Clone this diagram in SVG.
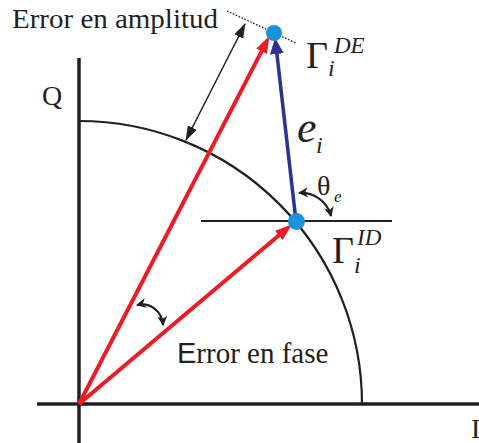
<svg xmlns="http://www.w3.org/2000/svg" width="479" height="443" viewBox="0 0 479 443">
<style>
.txt{font-family:"Liberation Serif","Times New Roman",serif;fill:#231f20}
.it{font-style:italic}
.ax{stroke:#231f20;stroke-width:3.5;fill:none}
.thin{stroke:#231f20;stroke-width:2.2;fill:none}
.red{stroke:#ed1c24;stroke-width:4;fill:none}
.blue{stroke:#2e3192;stroke-width:3.5;fill:none}
.dbl{stroke:#231f20;stroke-width:1.5;fill:none}
.curl{stroke:#231f20;stroke-width:2.2;fill:none}
.dot{fill:#1a93dc}
</style>
<defs>
<marker id="hr" markerUnits="userSpaceOnUse" markerWidth="18" markerHeight="14" refX="8" refY="6" orient="auto"><path d="M0,0 L17,6 L0,12 z" fill="#ed1c24"/></marker>
<marker id="hb" markerUnits="userSpaceOnUse" markerWidth="18" markerHeight="16" refX="8" refY="7" orient="auto"><path d="M0,0 L16,7 L0,14 z" fill="#2e3192"/></marker>
<marker id="hk" markerUnits="userSpaceOnUse" markerWidth="16" markerHeight="12" refX="14" refY="5" orient="auto-start-reverse"><path d="M0,0 L15,5 L0,10 z" fill="#231f20"/></marker>
<marker id="hc" markerUnits="userSpaceOnUse" markerWidth="12" markerHeight="12" refX="9" refY="5" orient="auto-start-reverse"><path d="M0,0 L10,5 L0,10 L3,5 z" fill="#231f20"/></marker>
</defs>

<g id="axes">
<line class="ax" x1="37" y1="404" x2="479" y2="404"/>
<line class="ax" x1="79" y1="58" x2="79" y2="443"/>
<text class="txt" x="42" y="105" font-size="28">Q</text>
<text class="txt" x="471" y="438" font-size="28">I</text>
</g>

<g id="unit-arc">
<path class="thin" d="M79,121 A283,283 0 0 1 362,404"/>
</g>

<g id="reference-line">
<line class="thin" x1="201" y1="221" x2="392" y2="221" stroke-width="2"/>
</g>

<g id="connectors">
<path class="red" d="M79,404 L265.3,44.1" marker-end="url(#hr)"/>
<path class="red" d="M79,404 L284.9,230.2" marker-end="url(#hr)"/>
<path class="blue" d="M296,221 L276,46" marker-end="url(#hb)"/>
<path class="dbl" d="M186,140 L245,24" marker-start="url(#hk)" marker-end="url(#hk)"/>
<line x1="227" y1="11" x2="296" y2="43" stroke="#231f20" stroke-width="1.3" stroke-dasharray="1.6,1.6"/>
<path class="curl" d="M299,193 C312,192 327,200 331,216" marker-start="url(#hc)" marker-end="url(#hc)"/>
<path class="curl" d="M137,305 C150,302 162,311 163,325" marker-start="url(#hc)" marker-end="url(#hc)"/>
</g>

<g id="point-DE">
<circle class="dot" cx="274" cy="33" r="8"/>
<text class="txt" x="306" y="68" font-size="38">Γ</text>
<text class="txt it" x="328" y="76" font-size="24">i</text>
<text class="txt it" x="334" y="53" font-size="23">DE</text>
</g>

<g id="point-ID">
<circle class="dot" cx="296.5" cy="221.5" r="8.5"/>
<text class="txt" x="332" y="263" font-size="38">Γ</text>
<text class="txt it" x="354" y="273" font-size="24">i</text>
<text class="txt it" x="357" y="245" font-size="23">ID</text>
</g>

<g id="label-ei">
<text class="txt it" x="297" y="142" font-size="44">e</text>
<text class="txt it" x="316" y="153" font-size="24">i</text>
</g>

<g id="label-theta">
<text class="txt" x="317" y="195" font-size="28">θ</text>
<text class="txt it" x="334" y="202" font-size="17">e</text>
</g>

<g id="label-amplitud">
<text class="txt" x="12" y="28" font-size="27" textLength="206" lengthAdjust="spacingAndGlyphs">Error en amplitud</text>
</g>

<g id="label-fase">
<text class="txt" x="177" y="363" font-size="29"><tspan font-family="Liberation Sans, Arial, sans-serif">E</tspan>rror en fase</text>
</g>
</svg>
